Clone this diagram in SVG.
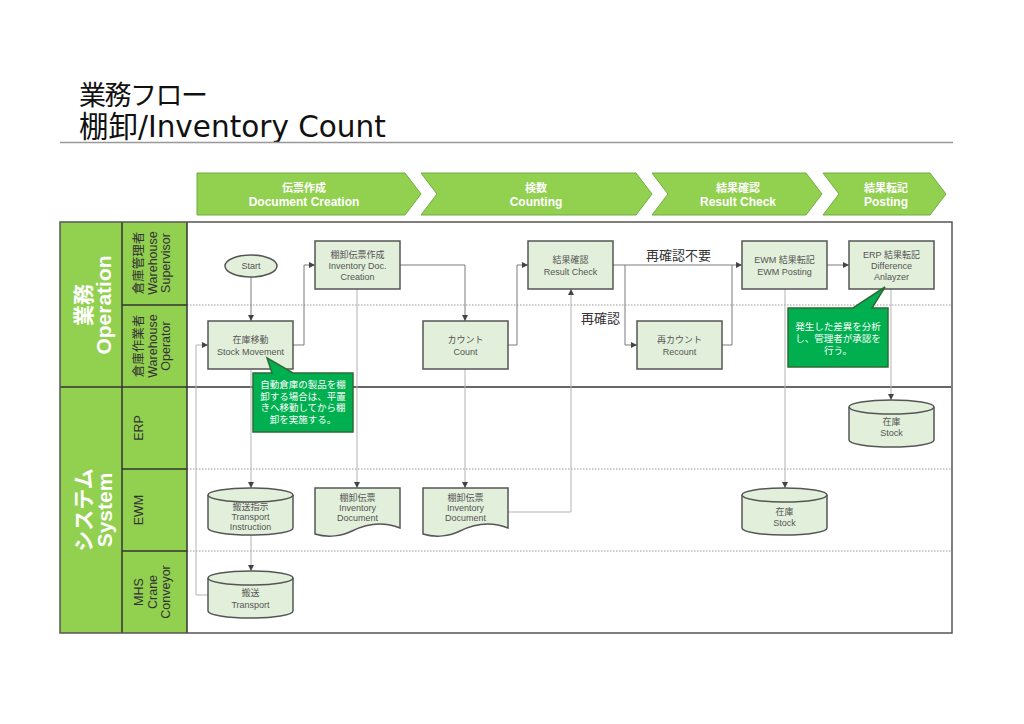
<svg xmlns="http://www.w3.org/2000/svg" width="1024" height="724" viewBox="0 0 1024 724">
<style>
text{font-family:"Liberation Sans","Noto Sans CJK JP",sans-serif;}
.title{font-family:"DejaVu Sans","Noto Sans CJK JP",sans-serif;font-size:29.5px;fill:#111;}
.chev{fill:#92D050;stroke:#6FAE3E;stroke-width:1;}
.chevt{fill:#fff;font-weight:bold;text-anchor:middle;}
.lanefill{fill:#92D050;}
.laneline{stroke:#333;stroke-width:1.5;fill:none;}
.dot{stroke:#999;stroke-width:1;stroke-dasharray:1.5 1.5;fill:none;}
.big{fill:#fff;font-weight:bold;font-size:21px;text-anchor:middle;}
.lane{fill:#333;font-size:12.5px;text-anchor:middle;}
.box{fill:#E2EFDA;stroke:#555;stroke-width:1.5;}
.bt{fill:#555;font-size:9px;text-anchor:middle;}
.c{fill:none;stroke:#7a7a7a;stroke-width:1;}
.cl{fill:none;stroke:#b3b3b3;stroke-width:1;}
.call{fill:#00B050;stroke:#2E6B33;stroke-width:1.5;}
.callt{fill:#fff;font-size:9.5px;text-anchor:middle;}
.lbl{fill:#333;font-size:13px;}
</style>
<defs>
<marker id="arr" markerWidth="6" markerHeight="6" refX="6" refY="3" orient="auto" markerUnits="userSpaceOnUse">
<path d="M0,0 L6,3 L0,6 Z" fill="#444"/>
</marker>
</defs>

<rect x="0" y="0" width="1024" height="724" fill="#fff"/>

<g id="title">
<text class="title" x="79" y="105" style="font-size:27px;letter-spacing:-1.5px">業務フロー</text>
<text class="title" x="79" y="137">棚卸/Inventory Count</text>
<line x1="60" y1="142.5" x2="953" y2="142.5" stroke="#999" stroke-width="1.5"/>
</g>

<g id="phases">
<polygon class="chev" points="197,173 405,173 421,194 405,215 197,215"/>
<polygon class="chev" points="421,173 636,173 652,194 636,215 421,215 437,194"/>
<polygon class="chev" points="652,173 806,173 822,194 806,215 652,215 668,194"/>
<polygon class="chev" points="823,173 930,173 946,194 930,215 823,215 839,194"/>
<text class="chevt" font-size="11" x="304" y="192">伝票作成</text>
<text class="chevt" font-size="12" x="304" y="206">Document Creation</text>
<text class="chevt" font-size="11" x="536" y="192">検数</text>
<text class="chevt" font-size="12" x="536" y="206">Counting</text>
<text class="chevt" font-size="11" x="738" y="192">結果確認</text>
<text class="chevt" font-size="12" x="738" y="206">Result Check</text>
<text class="chevt" font-size="11" x="886" y="192">結果転記</text>
<text class="chevt" font-size="12" x="886" y="206">Posting</text>
</g>

<g id="pool">
<rect x="60" y="222" width="127" height="411" class="lanefill"/>
<rect x="187" y="222" width="765" height="411" fill="#fff"/>
<line class="dot" x1="187" y1="305" x2="951" y2="305"/>
<line class="dot" x1="187" y1="469" x2="951" y2="469"/>
<line class="dot" x1="187" y1="551" x2="951" y2="551"/>
<line class="laneline" x1="60" y1="387" x2="951" y2="387" stroke="#555"/>
<line class="laneline" x1="122" y1="305" x2="187" y2="305"/>
<line class="laneline" x1="122" y1="469" x2="187" y2="469"/>
<line class="laneline" x1="122" y1="551" x2="187" y2="551"/>
<line class="laneline" x1="122" y1="222" x2="122" y2="633"/>
<line class="laneline" x1="187" y1="222" x2="187" y2="633"/>
<rect x="60" y="222" width="892" height="411" fill="none" stroke="#555" stroke-width="1.5"/>
<text class="big" transform="translate(92,305) rotate(-90)"><tspan x="0" y="-1">業務</tspan><tspan x="0" y="19">Operation</tspan></text>
<text class="big" transform="translate(92,510) rotate(-90)"><tspan x="0" y="-1">システム</tspan><tspan x="0" y="20">System</tspan></text>
<text class="lane" transform="translate(155,263) rotate(-90)"><tspan x="0" y="-12.5">倉庫管理者</tspan><tspan x="0" y="1.5">Warehouse</tspan><tspan x="0" y="15">Supervisor</tspan></text>
<text class="lane" transform="translate(155,346) rotate(-90)"><tspan x="0" y="-12.5">倉庫作業者</tspan><tspan x="0" y="1.5">Warehouse</tspan><tspan x="0" y="15">Operator</tspan></text>
<text class="lane" transform="translate(155,428) rotate(-90)"><tspan x="0" y="-12.5">ERP</tspan></text>
<text class="lane" transform="translate(155,510) rotate(-90)"><tspan x="0" y="-12.5">EWM</tspan></text>
<text class="lane" transform="translate(155,592) rotate(-90)"><tspan x="0" y="-12.5">MHS</tspan><tspan x="0" y="1.5">Crane</tspan><tspan x="0" y="15">Conveyor</tspan></text>
</g>

<g id="connectors">
<path class="c" d="M251,277 V321" stroke="#555" marker-end="url(#arr)"/>
<path class="c" d="M293,345 H304 V265 H315" marker-end="url(#arr)"/>
<path class="c" d="M400,265 H465 V321" marker-end="url(#arr)"/>
<path class="c" d="M508,345 H517 V265 H528" marker-end="url(#arr)"/>
<path class="c" d="M613,265 H742" marker-end="url(#arr)"/>
<path class="c" d="M625,265 V345 H637" marker-end="url(#arr)"/>
<path class="c" d="M722,345 H732 V265"/>
<path class="c" d="M827,265 H849" marker-end="url(#arr)"/>
<path class="cl" d="M891,289 V400" marker-end="url(#arr)"/>
<path class="cl" d="M785,289 V488" marker-end="url(#arr)"/>
<path class="cl" d="M251,369 V488" marker-end="url(#arr)"/>
<path class="cl" d="M357,289 V488" marker-end="url(#arr)"/>
<path class="cl" d="M465,369 V488" marker-end="url(#arr)"/>
<path class="cl" d="M508,512 H571 V289" marker-end="url(#arr)"/>
<path class="cl" d="M251,535 V571" marker-end="url(#arr)"/>
<path class="cl" d="M208,595 H196 V345 H208" marker-end="url(#arr)"/>
<text class="lbl" x="646" y="260">再確認不要</text>
<text class="lbl" x="581" y="323">再確認</text>
</g>

<g id="start">
<ellipse cx="251" cy="266" rx="26" ry="11" class="box"/>
<text class="bt" x="251" y="269">Start</text>
</g>

<g id="stock-movement">
<rect x="208" y="321" width="85" height="48" class="box"/>
<text class="bt" x="250.5" y="343">在庫移動</text>
<text class="bt" x="250.5" y="355">Stock Movement</text>
</g>

<g id="inv-doc-creation">
<rect x="315" y="241" width="85" height="48" class="box"/>
<text class="bt" x="357.5" y="258">棚卸伝票作成</text>
<text class="bt" x="357.5" y="269">Inventory Doc.</text>
<text class="bt" x="357.5" y="280">Creation</text>
</g>

<g id="count">
<rect x="423" y="321" width="85" height="48" class="box"/>
<text class="bt" x="465.5" y="343">カウント</text>
<text class="bt" x="465.5" y="355">Count</text>
</g>

<g id="result-check">
<rect x="528" y="241" width="85" height="48" class="box"/>
<text class="bt" x="570.5" y="263">結果確認</text>
<text class="bt" x="570.5" y="275">Result Check</text>
</g>

<g id="recount">
<rect x="637" y="321" width="85" height="48" class="box"/>
<text class="bt" x="679.5" y="343">再カウント</text>
<text class="bt" x="679.5" y="355">Recount</text>
</g>

<g id="ewm-posting">
<rect x="742" y="241" width="85" height="48" class="box"/>
<text class="bt" x="784.5" y="263">EWM 結果転記</text>
<text class="bt" x="784.5" y="275">EWM Posting</text>
</g>

<g id="erp-posting">
<rect x="849" y="241" width="85" height="48" class="box"/>
<text class="bt" x="891.5" y="258">ERP 結果転記</text>
<text class="bt" x="891.5" y="269">Difference</text>
<text class="bt" x="891.5" y="280">Anlayzer</text>
</g>

<g id="erp-stock">
<path class="box" d="M849,407 A42.5,7 0 0,1 934,407 V440 A42.5,7 0 0,1 849,440 Z"/>
<path fill="none" stroke="#555" stroke-width="1.5" d="M849,407 A42.5,7 0 0,0 934,407"/>
<text class="bt" x="891.5" y="425">在庫</text>
<text class="bt" x="891.5" y="436">Stock</text>
</g>

<g id="transport-instruction">
<path class="box" d="M208,495 A42.5,7 0 0,1 293,495 V528 A42.5,7 0 0,1 208,528 Z"/>
<path fill="none" stroke="#555" stroke-width="1.5" d="M208,495 A42.5,7 0 0,0 293,495"/>
<text class="bt" x="250.5" y="510">搬送指示</text>
<text class="bt" x="250.5" y="520">Transport</text>
<text class="bt" x="250.5" y="530">Instruction</text>
</g>

<g id="inventory-document-1">
<path class="box" d="M315,488 H400 V528 C380,520 362,526 352,531 C342,536 328,538 315,534 Z"/>
<text class="bt" x="357.5" y="501">棚卸伝票</text>
<text class="bt" x="357.5" y="511">Inventory</text>
<text class="bt" x="357.5" y="521">Document</text>
</g>

<g id="inventory-document-2">
<path class="box" d="M423,488 H508 V528 C488,520 470,526 460,531 C450,536 436,538 423,534 Z"/>
<text class="bt" x="465.5" y="501">棚卸伝票</text>
<text class="bt" x="465.5" y="511">Inventory</text>
<text class="bt" x="465.5" y="521">Document</text>
</g>

<g id="ewm-stock">
<path class="box" d="M742,495 A42.5,7 0 0,1 827,495 V528 A42.5,7 0 0,1 742,528 Z"/>
<path fill="none" stroke="#555" stroke-width="1.5" d="M742,495 A42.5,7 0 0,0 827,495"/>
<text class="bt" x="784.5" y="515">在庫</text>
<text class="bt" x="784.5" y="526">Stock</text>
</g>

<g id="transport">
<path class="box" d="M208,578 A42.5,7 0 0,1 293,578 V611 A42.5,7 0 0,1 208,611 Z"/>
<path fill="none" stroke="#555" stroke-width="1.5" d="M208,578 A42.5,7 0 0,0 293,578"/>
<text class="bt" x="250.5" y="596">搬送</text>
<text class="bt" x="250.5" y="608">Transport</text>
</g>

<g id="note-stock-movement">
<path class="call" d="M253,373 H272 L267,358 L293,373 H353 V432 H253 Z"/>
<text class="callt" x="303" y="388">自動倉庫の製品を棚</text>
<text class="callt" x="303" y="399.5">卸する場合は、平置</text>
<text class="callt" x="303" y="411">きへ移動してから棚</text>
<text class="callt" x="303" y="422.5">卸を実施する。</text>
</g>

<g id="note-erp">
<path class="call" d="M788,308 H853 L885,287 L872,308 H888 V367 H788 Z"/>
<text class="callt" x="838" y="330">発生した差異を分析</text>
<text class="callt" x="838" y="342">し、管理者が承認を</text>
<text class="callt" x="838" y="354">行う。</text>
</g>
</svg>
